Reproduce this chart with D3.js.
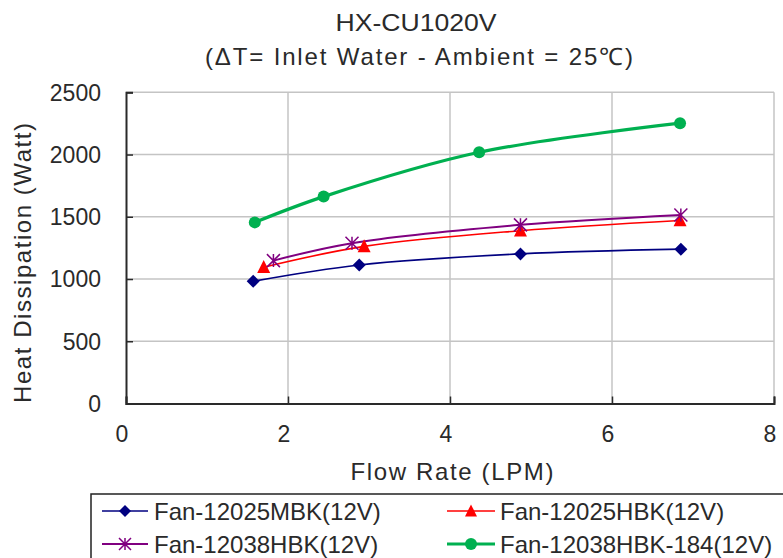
<!DOCTYPE html>
<html>
<head>
<meta charset="utf-8">
<script src="https://cdn.jsdelivr.net/npm/d3@7"></script>
<style>
  html, body { margin: 0; padding: 0; background: #fff; }
  svg { display: block; }
  text { font-family: "Liberation Sans", Arial, sans-serif; fill: #2a2a2a; }
</style>
</head>
<body>
<svg id="chart" width="783" height="558"></svg>
<script>
// ---- data ----
const titleLines = ["HX-CU1020V", "(\u0394T= Inlet Water - Ambient = 25\u2103)"];
const xLabel = "Flow Rate (LPM)";
const yLabel = "Heat Dissipation (Watt)";
const xTicks = [0, 2, 4, 6, 8];
const yTicks = [0, 500, 1000, 1500, 2000, 2500];

const seriesNames = ["Fan-12025MBK(12V)", "Fan-12025HBK(12V)", "Fan-12038HBK(12V)", "Fan-12038HBK-184(12V)"];
const flowMBK   = [1.57, 2.88, 4.87, 6.85];
const heatMBK   = [982, 1113, 1202, 1240];
const flowHBK   = [1.70, 2.94, 4.87, 6.84];
const heatHBK   = [1095, 1262, 1388, 1470];
const flow38HBK = [1.82, 2.79, 4.87, 6.85];
const heat38HBK = [1148, 1288, 1435, 1515];
const flow184   = [1.59, 2.44, 4.36, 6.84];
const heat184   = [1455, 1662, 2018, 2252];

// ---- styles ----
const styles = [
  { color: "#000080", width: 1.6, marker: "diamond", size: 13 },
  { color: "#ff0000", width: 1.6, marker: "triangle", size: 13 },
  { color: "#800080", width: 2,   marker: "star", size: 13 },
  { color: "#00b050", width: 3.2, marker: "circle", size: 12 }
];
const series = [
  { name: seriesNames[0], xs: flowMBK, ys: heatMBK },
  { name: seriesNames[1], xs: flowHBK, ys: heatHBK },
  { name: seriesNames[2], xs: flow38HBK, ys: heat38HBK },
  { name: seriesNames[3], xs: flow184, ys: heat184 }
].map((s, i) => Object.assign(s, styles[i], { pts: s.xs.map((x, j) => [x, s.ys[j]]) }));

const svg = d3.select("#chart");
const x = d3.scaleLinear().domain([0, 8]).range([126, 774]);
const y = d3.scaleLinear().domain([0, 2500]).range([403.5, 92.3]);

// gridlines
const grid = svg.append("g");
grid.selectAll("line.h").data(yTicks.filter(d => d > 0)).join("line")
  .attr("x1", x(0)).attr("x2", x(8)).attr("y1", d => y(d)).attr("y2", d => y(d))
  .attr("stroke", "#c4c4c4").attr("stroke-width", 1.5);
grid.selectAll("line.v").data(xTicks.filter(d => d > 0)).join("line")
  .attr("x1", d => x(d)).attr("x2", d => x(d)).attr("y1", y(0)).attr("y2", y(2500))
  .attr("stroke", "#c4c4c4").attr("stroke-width", 1.5);

// axes (inward ticks)
const yAxis = svg.append("g").attr("transform", `translate(${x(0)},0)`)
  .call(d3.axisRight(y).tickValues(yTicks).tickSize(7).tickFormat(""));
const xAxis = svg.append("g").attr("transform", `translate(0,${y(0)})`)
  .call(d3.axisTop(x).tickValues(xTicks).tickSize(7).tickFormat(""));
[yAxis, xAxis].forEach(a => {
  a.select(".domain").attr("stroke", "#2a2a2a").attr("stroke-width", 2);
  a.selectAll(".tick line").attr("stroke", "#2a2a2a").attr("stroke-width", 1.5);
});
// tick labels
svg.append("g").selectAll("text").data(yTicks).join("text")
  .attr("x", 101).attr("y", d => y(d)).attr("dy", "0.36em")
  .attr("text-anchor", "end").attr("font-size", 23).text(d => d);
svg.append("g").selectAll("text").data(xTicks).join("text")
  .attr("x", d => x(d) - 4).attr("y", 442)
  .attr("text-anchor", "middle").attr("font-size", 23).text(d => d);

// titles
svg.append("text").attr("x", 416).attr("y", 31).attr("text-anchor", "middle")
  .attr("font-size", 24).attr("textLength", 161).attr("lengthAdjust", "spacingAndGlyphs").text(titleLines[0]);
svg.append("text").attr("x", 419).attr("y", 65).attr("text-anchor", "middle")
  .attr("font-size", 24).attr("textLength", 428).attr("lengthAdjust", "spacing").text(titleLines[1]);
svg.append("text").attr("x", 452).attr("y", 480).attr("text-anchor", "middle")
  .attr("font-size", 24).attr("textLength", 203).attr("lengthAdjust", "spacing").text(xLabel);
svg.append("text").attr("transform", "translate(31,263) rotate(-90)").attr("text-anchor", "middle")
  .attr("font-size", 24).attr("textLength", 280).attr("lengthAdjust", "spacing").text(yLabel);

// markers
function drawMarker(g, type, color, size) {
  const s = size;
  if (type === "diamond") {
    g.append("path").attr("d", `M0,${-s/2}L${s/2},0L0,${s/2}L${-s/2},0Z`).attr("fill", color);
  } else if (type === "triangle") {
    g.append("path").attr("d", `M0,${-s*0.55}L${s/2},${s*0.45}L${-s/2},${s*0.45}Z`).attr("fill", color);
  } else if (type === "circle") {
    g.append("circle").attr("r", s/2).attr("fill", color);
  } else if (type === "star") {
    const r = s/2;
    g.append("path").attr("d",
      `M${-r},${-r}L${r},${r}M${-r},${r}L${r},${-r}M0,${-r}L0,${r}`)
      .attr("stroke", color).attr("stroke-width", 1.5).attr("fill", "none");
  }
}

// lines
const line = d3.line().x(d => x(d[0])).y(d => y(d[1])).curve(d3.curveCatmullRom.alpha(0.5));
const plot = svg.append("g");
series.forEach(s => {
  plot.append("path").attr("d", line(s.pts)).attr("fill", "none")
    .attr("stroke", s.color).attr("stroke-width", s.width).attr("stroke-linejoin", "round");
});
series.forEach(s => {
  s.pts.forEach(p => {
    const g = plot.append("g").attr("transform", `translate(${x(p[0])},${y(p[1])})`);
    drawMarker(g, s.marker, s.color, s.size);
  });
});

// legend
const legend = svg.append("g");
legend.append("rect").attr("x", 91).attr("y", 494).attr("width", 720).attr("height", 90)
  .attr("fill", "#fff").attr("stroke", "#222").attr("stroke-width", 1.5);
const legPos = [
  { lx1: 102, lx2: 148, tx: 154, y: 511 },
  { lx1: 447, lx2: 495, tx: 500, y: 511 },
  { lx1: 102, lx2: 148, tx: 154, y: 544 },
  { lx1: 447, lx2: 495, tx: 500, y: 544 }
];
series.forEach((s, i) => {
  const p = legPos[i];
  legend.append("line").attr("x1", p.lx1).attr("x2", p.lx2).attr("y1", p.y).attr("y2", p.y)
    .attr("stroke", s.color).attr("stroke-width", s.width);
  const g = legend.append("g").attr("transform", `translate(${(p.lx1 + p.lx2) / 2},${p.y})`);
  drawMarker(g, s.marker, s.color, 12);
  legend.append("text").attr("x", p.tx).attr("y", p.y + 8.5).attr("font-size", 24).text(s.name);
});
</script>
</body>
</html>
